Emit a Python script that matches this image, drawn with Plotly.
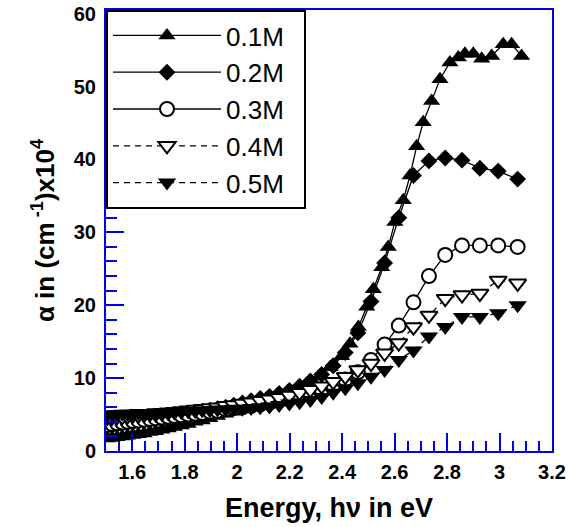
import plotly.graph_objects as go

# ---------------- data ----------------
energy_01 = [1.505, 1.523, 1.542, 1.562, 1.582, 1.602, 1.623, 1.645, 1.667, 1.689,
             1.713, 1.737, 1.761, 1.787, 1.813, 1.840, 1.867, 1.896, 1.925, 1.956,
             1.987, 2.020, 2.053, 2.088, 2.123, 2.160, 2.207, 2.239, 2.277, 2.316,
             2.354, 2.398, 2.430, 2.462, 2.494, 2.519, 2.551, 2.576, 2.601, 2.633,
             2.659, 2.684, 2.709, 2.741, 2.773, 2.811, 2.843, 2.868, 2.900, 2.932,
             2.970, 3.014, 3.046, 3.084]
alpha_01 = [1.7, 1.8, 1.9, 2.0, 2.1, 2.2, 2.3, 2.4, 2.6, 2.7,
            2.9, 3.1, 3.3, 3.5, 3.7, 4.0, 4.2, 4.5, 4.8, 5.1,
            5.4, 5.8, 6.2, 6.6, 7.1, 7.6, 8.2, 8.7, 9.4, 10.3,
            11.5, 13.0, 14.7, 17.0, 19.8, 22.2, 25.2, 28.0, 31.4, 34.4,
            37.8, 41.8, 45.1, 48.0, 51.0, 53.3, 54.0, 54.5, 54.5, 53.8,
            54.2, 55.8, 55.8, 54.2]

energy = [1.505, 1.523, 1.542, 1.562, 1.582, 1.602, 1.623, 1.645, 1.667, 1.689,
          1.713, 1.737, 1.761, 1.787, 1.813, 1.840, 1.867, 1.896, 1.925, 1.956,
          1.987, 2.020, 2.053, 2.088, 2.123, 2.160, 2.199, 2.238, 2.279, 2.322,
          2.366, 2.412, 2.460, 2.510, 2.562, 2.616, 2.672, 2.731, 2.793, 2.857,
          2.925, 2.995, 3.069]
alpha_02 = [3.4, 3.5, 3.6, 3.7, 3.8, 3.9, 4.0, 4.1, 4.2, 4.3,
            4.4, 4.6, 4.7, 4.9, 5.0, 5.2, 5.4, 5.6, 5.8, 6.0,
            6.3, 6.6, 6.9, 7.2, 7.5, 7.9, 8.3, 8.9, 9.6, 10.5,
            11.7, 13.5, 16.2, 20.5, 25.8, 32.0, 37.8, 39.8, 40.2, 39.9,
            38.8, 38.4, 37.3]
alpha_03 = [3.6, 3.7, 3.8, 3.9, 4.0, 4.1, 4.2, 4.3, 4.4, 4.5,
            4.6, 4.7, 4.8, 4.9, 5.0, 5.1, 5.2, 5.4, 5.5, 5.7,
            5.9, 6.0, 6.2, 6.4, 6.6, 6.9, 7.2, 7.5, 7.9, 8.4,
            9.0, 9.8, 10.8, 12.5, 14.6, 17.2, 20.4, 24.0, 26.9, 28.2,
            28.2, 28.2, 28.0]
alpha_04 = [4.6, 4.6, 4.7, 4.7, 4.8, 4.9, 4.9, 5.0, 5.1, 5.1,
            5.2, 5.3, 5.4, 5.5, 5.6, 5.7, 5.8, 5.9, 6.0, 6.2,
            6.3, 6.5, 6.7, 6.9, 7.1, 7.3, 7.6, 8.0, 8.4, 8.9,
            9.5, 10.2, 11.1, 12.0, 13.4, 14.8, 17.0, 18.6, 20.9, 21.4,
            21.6, 23.4, 23.0]
alpha_05 = [5.0, 5.0, 5.0, 5.1, 5.1, 5.1, 5.2, 5.2, 5.2, 5.3,
            5.3, 5.3, 5.4, 5.4, 5.5, 5.5, 5.6, 5.6, 5.7, 5.7,
            5.8, 5.8, 5.9, 6.0, 6.1, 6.3, 6.5, 6.7, 7.0, 7.4,
            8.0, 8.6, 9.3, 10.2, 11.1, 12.5, 13.8, 15.7, 17.0, 18.4,
            18.4, 18.9, 20.0]

series_names = ["0.1M", "0.2M", "0.3M", "0.4M", "0.5M"]

x_tick_vals = [1.6, 1.8, 2.0, 2.2, 2.4, 2.6, 2.8, 3.0, 3.2]
y_tick_vals = [0, 10, 20, 30, 40, 50, 60]

# ---------------- styles ----------------
FONT = "Liberation Sans, Arial, sans-serif"
AXIS_BLUE = "#0000E6"

styles = [
    dict(symbol="triangle-up", size=15, color="black", line=dict(width=0), dash="solid"),
    dict(symbol="diamond", size=13, color="black", line=dict(width=0), dash="solid"),
    dict(symbol="circle", size=14, color="white", line=dict(width=2, color="black"), dash="solid"),
    dict(symbol="triangle-down", size=15, color="white", line=dict(width=2, color="black"), dash="6px,5px"),
    dict(symbol="triangle-down", size=16, color="black", line=dict(width=0), dash="6px,5px"),
]

xs = [energy_01, energy, energy, energy, energy]
ys = [alpha_01, alpha_02, alpha_03, alpha_04, alpha_05]

fig = go.Figure()
for name, x, y, st in zip(series_names, xs, ys, styles):
    fig.add_trace(go.Scatter(
        x=x, y=y, name=name + "\u00a0\u00a0", mode="lines+markers",
        line=dict(color="black", width=1.3, dash=st["dash"]),
        marker=dict(symbol=st["symbol"], size=st["size"], color=st["color"],
                    line=st["line"]),
    ))

axis_common = dict(
    showline=True, linecolor=AXIS_BLUE, linewidth=2, mirror=True,
    ticks="inside", tickcolor=AXIS_BLUE, tickwidth=2, ticklen=18,
    showgrid=False, zeroline=False, automargin=False,
    ticklabeloverflow="allow",
    tickfont=dict(family=FONT, size=20, color="black", weight="bold"),
)

fig.update_xaxes(
    range=[1.5, 3.2], tickvals=x_tick_vals,
    minor=dict(dtick=0.05, tick0=1.5, ticks="inside", ticklen=10, tickwidth=2, tickcolor=AXIS_BLUE),
    title=dict(text="Energy, h\u03bd in eV", font=dict(family=FONT, size=27, color="black", weight="bold"), standoff=16),
    ticklabelstandoff=2,
    **axis_common,
)
fig.update_yaxes(
    range=[0, 60.5], tickvals=y_tick_vals,
    minor=dict(dtick=2, tick0=0, ticks="inside", ticklen=11, tickwidth=2, tickcolor=AXIS_BLUE),
    title=dict(text="\u03b1 in (cm<sup> -1</sup>)x10<sup>4</sup>", font=dict(family=FONT, size=26, color="black", weight="bold"), standoff=12),
    ticklabelstandoff=4,
    **axis_common,
)

fig.update_layout(
    width=575, height=527,
    margin=dict(l=106, r=23, t=10, b=76),
    plot_bgcolor="white", paper_bgcolor="white",
    font=dict(family=FONT, color="black"),
    legend=dict(
        x=0, y=1, xanchor="left", yanchor="top",
        bgcolor="white", bordercolor="black", borderwidth=2,
        font=dict(family=FONT, size=26, color="black"),
        itemwidth=108,
    ),
)

# remove the browser's default 8px body margin so the figure fills the window
fig.write_html("out.html", config={"displayModeBar": False},
               post_script="document.body.style.margin='0';")
